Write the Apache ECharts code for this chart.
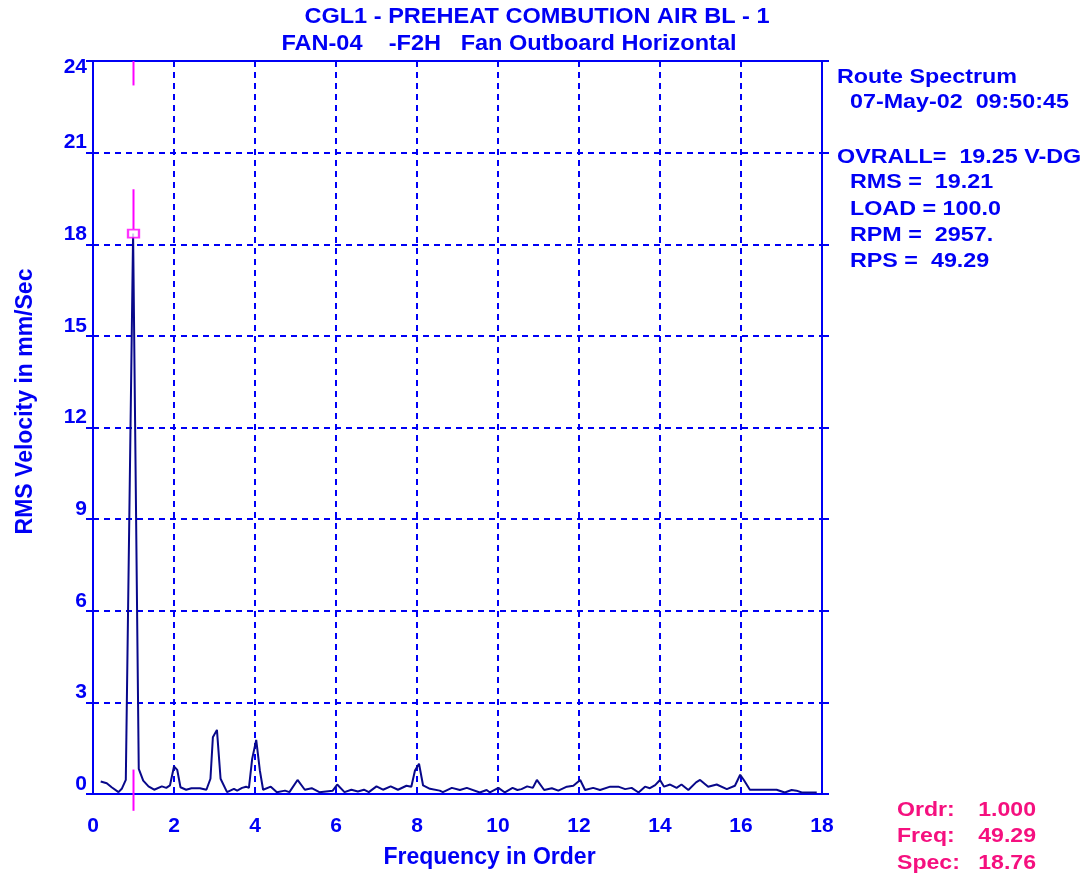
<!DOCTYPE html>
<html lang="en">
<head>
    <meta charset="UTF-8">
    <title>Route Spectrum - FAN-04</title>
    <script src="https://cdn.jsdelivr.net/npm/echarts/dist/echarts.min.js"></script>
    <style>
        html, body { margin: 0; padding: 0; background: #fff; }
        #main { width: 1091px; height: 879px; }
    </style>
</head>
<body>
<div id="main"></div>
<script>
    // spectrum trace (order, mm/s rms)
    const orders = [0.19, 0.34, 0.46, 0.63, 0.71, 0.81, 0.99, 1.13, 1.24, 1.37, 1.51, 1.70, 1.81, 1.90, 2.00, 2.08, 2.16, 2.30, 2.43, 2.64,
        2.80, 2.90, 2.96, 3.06, 3.15, 3.31, 3.48, 3.56, 3.68, 3.78, 3.85, 3.93, 4.03, 4.12, 4.20, 4.39, 4.54, 4.74, 4.85, 5.05,
        5.23, 5.40, 5.59, 5.92, 6.03, 6.21, 6.38, 6.54, 6.69, 6.81, 7.00, 7.16, 7.35, 7.53, 7.74, 7.86, 7.95, 8.05, 8.15, 8.32,
        8.56, 8.64, 8.86, 9.06, 9.23, 9.55, 9.72, 9.80, 10.01, 10.17, 10.36, 10.48, 10.58, 10.72, 10.86, 10.96, 11.14, 11.33, 11.49, 11.70,
        11.86, 12.03, 12.15, 12.35, 12.52, 12.77, 12.97, 13.14, 13.30, 13.47, 13.63, 13.75, 13.88, 14.00, 14.10, 14.25, 14.41, 14.53, 14.70, 14.89,
        14.99, 15.19, 15.40, 15.65, 15.85, 15.98, 16.07, 16.22, 16.88, 17.08, 17.25, 17.37, 17.50, 17.87];
    const velocity = [0.41, 0.35, 0.22, 0.06, 0.17, 0.46, 18.35, 0.82, 0.44, 0.25, 0.14, 0.25, 0.20, 0.28, 0.90, 0.79, 0.22, 0.14, 0.19, 0.19,
        0.14, 0.50, 1.86, 2.10, 0.50, 0.06, 0.17, 0.11, 0.20, 0.24, 0.20, 1.15, 1.77, 0.77, 0.14, 0.24, 0.06, 0.11, 0.06, 0.46,
        0.14, 0.19, 0.06, 0.11, 0.31, 0.06, 0.14, 0.08, 0.14, 0.06, 0.25, 0.14, 0.25, 0.14, 0.27, 0.24, 0.77, 0.99, 0.28, 0.17,
        0.11, 0.06, 0.20, 0.13, 0.20, 0.05, 0.13, 0.05, 0.20, 0.05, 0.20, 0.13, 0.16, 0.25, 0.20, 0.46, 0.13, 0.19, 0.11, 0.24,
        0.27, 0.46, 0.13, 0.20, 0.13, 0.24, 0.24, 0.16, 0.20, 0.05, 0.24, 0.19, 0.29, 0.46, 0.24, 0.31, 0.20, 0.31, 0.13, 0.38,
        0.46, 0.24, 0.31, 0.16, 0.27, 0.63, 0.46, 0.14, 0.14, 0.05, 0.13, 0.11, 0.05, 0.05];

    // cursor at 1x
    const cursorOrder = 1.0;
    const cursorValue = 18.35;
    const cursorSegments = [[23.2, 24], [18.5, 19.8], [-0.55, 0.8]];

    const titleLines = ['CGL1 - PREHEAT COMBUTION AIR BL - 1', 'FAN-04    -F2H   Fan Outboard Horizontal'];
    const infoLines = ['Route Spectrum', '  07-May-02  09:50:45', '', 'OVRALL=  19.25 V-DG', '  RMS =  19.21', '  LOAD = 100.0', '  RPM =  2957.', '  RPS =  49.29'];
    const cursorLabels = ['Ordr:', 'Freq:', 'Spec:'];
    const cursorValues = ['1.000', '49.29', '18.76'];

    const BLUE = '#0000f5';
    const PINK = '#f5107f';
    const MAGENTA = '#ff00ff';
    const FONT = '"Liberation Sans", Arial, sans-serif';

    const chart = echarts.init(document.getElementById('main'));

    const graphics = [];
    titleLines.forEach((t, i) => {
        graphics.push({
            type: 'text', x: i === 0 ? 537 : 509, y: 17 + i * 27, scaleX: 1.07,
            style: { text: t, fill: BLUE, font: 'bold 22px ' + FONT, align: 'center', verticalAlign: 'middle' }
        });
    });
    const infoY = [77, 102, 0, 157, 182, 209, 235, 261];
    infoLines.forEach((t, i) => {
        if (!t) return;
        graphics.push({
            type: 'text', x: 837, y: infoY[i], scaleX: 1.11,
            style: { text: t, fill: BLUE, font: 'bold 21px ' + FONT, align: 'left', verticalAlign: 'middle' }
        });
    });
    cursorLabels.forEach((t, i) => {
        graphics.push({
            type: 'text', x: 897, y: 810 + i * 26.5, scaleX: 1.1,
            style: { text: t, fill: PINK, font: 'bold 21px ' + FONT, align: 'left', verticalAlign: 'middle' }
        });
        graphics.push({
            type: 'text', x: 1036, y: 810 + i * 26.5, scaleX: 1.1,
            style: { text: cursorValues[i], fill: PINK, font: 'bold 21px ' + FONT, align: 'right', verticalAlign: 'middle' }
        });
    });

    const cursorSeries = cursorSegments.map(seg => ({
        type: 'line',
        data: [[cursorOrder, seg[0]], [cursorOrder, seg[1]]],
        symbol: 'none',
        clip: false,
        lineStyle: { color: MAGENTA, width: 2 },
        z: 3,
        silent: true
    }));

    const option = {
        animation: false,
        textStyle: { fontFamily: FONT },
        graphic: graphics,
        grid: {
            left: 93, top: 61, right: 269, bottom: 85,
            show: true, borderColor: BLUE, borderWidth: 2, backgroundColor: 'transparent'
        },
        xAxis: {
            type: 'value', min: 0, max: 18, interval: 2,
            name: 'Frequency in Order',
            nameLocation: 'middle', nameGap: 52,
            nameTextStyle: { color: BLUE, fontSize: 23, fontWeight: 'bold', padding: [0, 0, 0, 64] },
            axisLine: { show: true, lineStyle: { color: BLUE, width: 2 } },
            axisTick: { show: false },
            axisLabel: { color: BLUE, fontSize: 21, fontWeight: 'bold', margin: 22 },
            splitLine: { show: true, lineStyle: { color: BLUE, width: 2, type: [6, 5] } }
        },
        yAxis: [{
            type: 'value', min: 0, max: 24, interval: 3,
            name: 'RMS Velocity in mm/Sec',
            nameLocation: 'middle', nameGap: 56,
            nameTextStyle: { color: BLUE, fontSize: 23, fontWeight: 'bold', padding: [0, 0, 0, 52] },
            axisLine: { show: true, lineStyle: { color: BLUE, width: 2 } },
            axisTick: { show: true, length: 7, lineStyle: { color: BLUE, width: 2 } },
            axisLabel: {
                color: BLUE, fontSize: 21, fontWeight: 'bold', margin: 6,
                formatter: v => v === 24 ? '{t|24}' : '{b|' + v + '}',
                rich: {
                    b: { color: BLUE, fontSize: 21, fontWeight: 'bold', padding: [0, 0, 20, 0] },
                    t: { color: BLUE, fontSize: 21, fontWeight: 'bold', padding: [12, 0, 0, 0] }
                }
            },
            splitLine: { show: true, lineStyle: { color: BLUE, width: 2, type: [6, 5] } }
        }, {
            type: 'value', min: 0, max: 24, interval: 3, position: 'right',
            axisLine: { show: true, lineStyle: { color: BLUE, width: 2 } },
            axisTick: { show: true, length: 7, lineStyle: { color: BLUE, width: 2 } },
            axisLabel: { show: false },
            splitLine: { show: false }
        }],
        series: [{
            type: 'line',
            data: orders.map((o, i) => [o, velocity[i]]),
            symbol: 'none',
            lineStyle: { color: '#08088a', width: 2 },
            z: 4,
            silent: true
        }].concat(cursorSeries, [{
            type: 'scatter',
            data: [[cursorOrder, cursorValue]],
            symbol: 'rect',
            symbolSize: [11, 8],
            itemStyle: { color: '#ffffff', borderColor: MAGENTA, borderWidth: 2 },
            z: 5,
            silent: true
        }])
    };

    chart.setOption(option);
</script>
</body>
</html>
